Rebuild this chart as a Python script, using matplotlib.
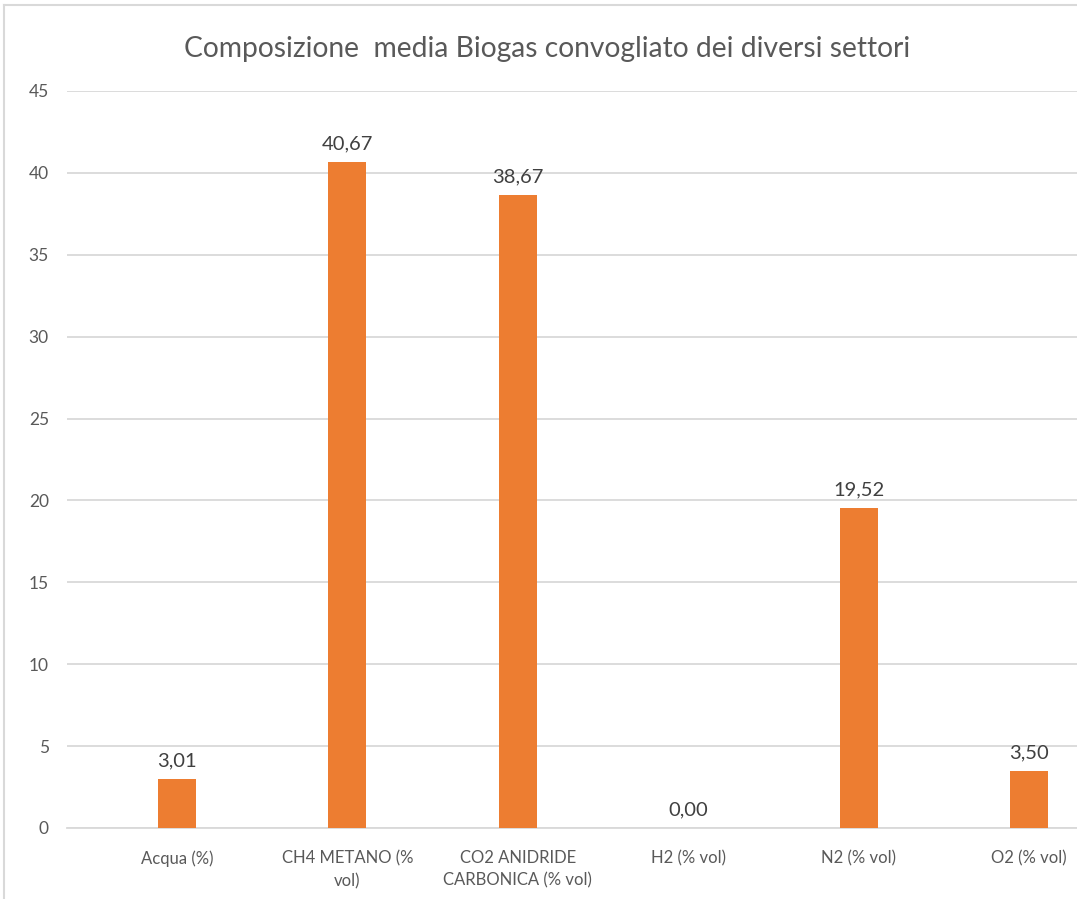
import matplotlib.pyplot as plt
from matplotlib.lines import Line2D

categorie = ['Acqua (%)', 'CH4 METANO (%\nvol)', 'CO2 ANIDRIDE\nCARBONICA (% vol)',
             'H2 (% vol)', 'N2 (% vol)', 'O2 (% vol)']
valori = [3.01, 40.67, 38.67, 0.00, 19.52, 3.50]
etichette = ['3,01', '40,67', '38,67', '0,00', '19,52', '3,50']
y_ticks = [0, 5, 10, 15, 20, 25, 30, 35, 40, 45]

plt.rcParams['font.family'] = ['Lato', 'DejaVu Sans']

fig = plt.figure(figsize=(10.77, 8.99), dpi=100)
ax = fig.add_axes([0.0622, 0.0790, 0.9378, 0.8198])

x = list(range(len(categorie)))
bars = ax.bar(x, valori, width=0.223, color='#ED7D31', zorder=3)

for b, lab in zip(bars, etichette):
    ax.annotate(lab, (b.get_x() + b.get_width() / 2, b.get_height()),
                xytext=(0, 7), textcoords='offset points',
                ha='center', va='bottom', fontsize=14.5, color='#404040')

ax.set_xlim(-0.6455, 5.28)
ax.set_ylim(0, 45)
ax.set_yticks(y_ticks)
ax.set_xticks(x)
ax.set_xticklabels(categorie, fontsize=12, color='#595959', linespacing=1.5)
ax.tick_params(axis='y', labelsize=12.5, labelcolor='#595959', length=0, pad=13)
ax.tick_params(axis='x', length=0, pad=16)
ax.grid(axis='y', color='#D9D9D9', linewidth=1.3, zorder=0)
for s in ['top', 'right', 'left']:
    ax.spines[s].set_visible(False)
ax.spines['bottom'].set_color('#D9D9D9')
ax.spines['bottom'].set_linewidth(1.3)

fig.text(0.508, 0.946, 'Composizione  media Biogas convogliato dei diversi settori',
         ha='center', va='center', fontsize=20.3, color='#595959')

# bordo del grafico
fig.add_artist(Line2D([0.004, 0.004], [0, 0.994], transform=fig.transFigure,
                      color='#D9D9D9', linewidth=1.5))
fig.add_artist(Line2D([0.004, 1], [0.994, 0.994], transform=fig.transFigure,
                      color='#D9D9D9', linewidth=1.5))

fig.savefig('out.png', dpi=100)
